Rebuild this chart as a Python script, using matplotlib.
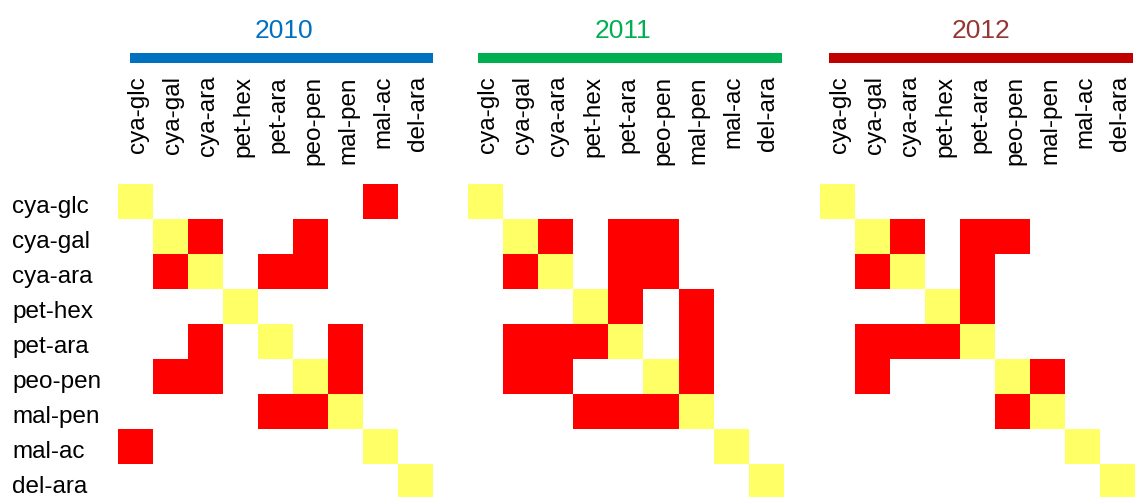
import numpy as np
import matplotlib
matplotlib.use("Agg")
from matplotlib import pyplot as plt
from matplotlib.colors import ListedColormap
from matplotlib.patches import Rectangle
from matplotlib import transforms

plt.rcParams['font.family'] = ['Liberation Sans', 'DejaVu Sans']

# species/population pairs, same order on both axes
names = ["cya-glc", "cya-gal", "cya-ara", "pet-hex", "pet-ara",
         "peo-pen", "mal-pen", "mal-ac", "del-ara"]

years = ["2010", "2011", "2012"]

# pairs that are significantly different in each year (drawn red, symmetric)
red_2010 = [("cya-glc", "mal-ac"), ("cya-gal", "cya-ara"), ("cya-gal", "peo-pen"),
            ("cya-ara", "pet-ara"), ("cya-ara", "peo-pen"), ("pet-ara", "mal-pen"),
            ("peo-pen", "mal-pen")]
red_2011 = [("cya-gal", "cya-ara"), ("cya-gal", "pet-ara"), ("cya-gal", "peo-pen"),
            ("cya-ara", "pet-ara"), ("cya-ara", "peo-pen"), ("pet-hex", "pet-ara"),
            ("pet-hex", "mal-pen"), ("pet-ara", "mal-pen"), ("peo-pen", "mal-pen")]
red_2012 = [("cya-gal", "cya-ara"), ("cya-gal", "pet-ara"), ("cya-gal", "peo-pen"),
            ("cya-ara", "pet-ara"), ("pet-hex", "pet-ara"), ("peo-pen", "mal-pen")]

title_colors = ["#0070C0", "#00B050", "#953735"]
bar_colors = ["#0070C0", "#00B050", "#C00000"]


def build_matrix(pairs):
    n = len(names)
    m = np.zeros((n, n))
    np.fill_diagonal(m, 1)
    for a, b in pairs:
        i, j = names.index(a), names.index(b)
        m[i, j] = 2
        m[j, i] = 2
    return m


W, H = 1136, 497
fig = plt.figure(figsize=(W / 100, H / 100), dpi=100)
cmap = ListedColormap(["white", "#FFFF66", "#FF0000"])

cell = 35
top = 184
lefts = [118, 468, 820]
bars = [(130, 433), (478, 782), (829, 1133)]
title_x = [284, 623, 981]

for k, pairs in enumerate([red_2010, red_2011, red_2012]):
    x0 = lefts[k]
    size = cell * len(names)
    ax = fig.add_axes([x0 / W, 1 - (top + size) / H, size / W, size / H])
    ax.imshow(build_matrix(pairs), cmap=cmap, vmin=0, vmax=2,
              aspect='auto', interpolation='nearest')
    ax.set_xlim(-0.5, 8.5)
    ax.set_ylim(8.5, -0.5)
    ax.axis('off')

    # column labels, top-aligned above the matrix
    tr = transforms.blended_transform_factory(ax.transData, fig.transFigure)
    for i, nm in enumerate(names):
        ax.text(i + 0.08, 1 - 76 / H, nm, transform=tr, rotation=90,
                ha='center', va='top', fontsize=17.5, clip_on=False)

    # colored bar + year heading
    b0, b1 = bars[k]
    fig.add_artist(Rectangle((b0 / W, 1 - 63 / H), (b1 - b0) / W, 10 / H,
                             transform=fig.transFigure, color=bar_colors[k], lw=0))
    fig.text(title_x[k] / W, 1 - 38 / H, years[k], color=title_colors[k],
             ha='center', va='baseline', fontsize=19)

    if k == 0:
        tr_row = transforms.blended_transform_factory(fig.transFigure, ax.transData)
        for i, nm in enumerate(names):
            ax.text(12 / W, i + 0.33, nm, transform=tr_row, ha='left',
                    va='baseline', fontsize=17.5, clip_on=False)

fig.savefig("out.png", dpi=100)
